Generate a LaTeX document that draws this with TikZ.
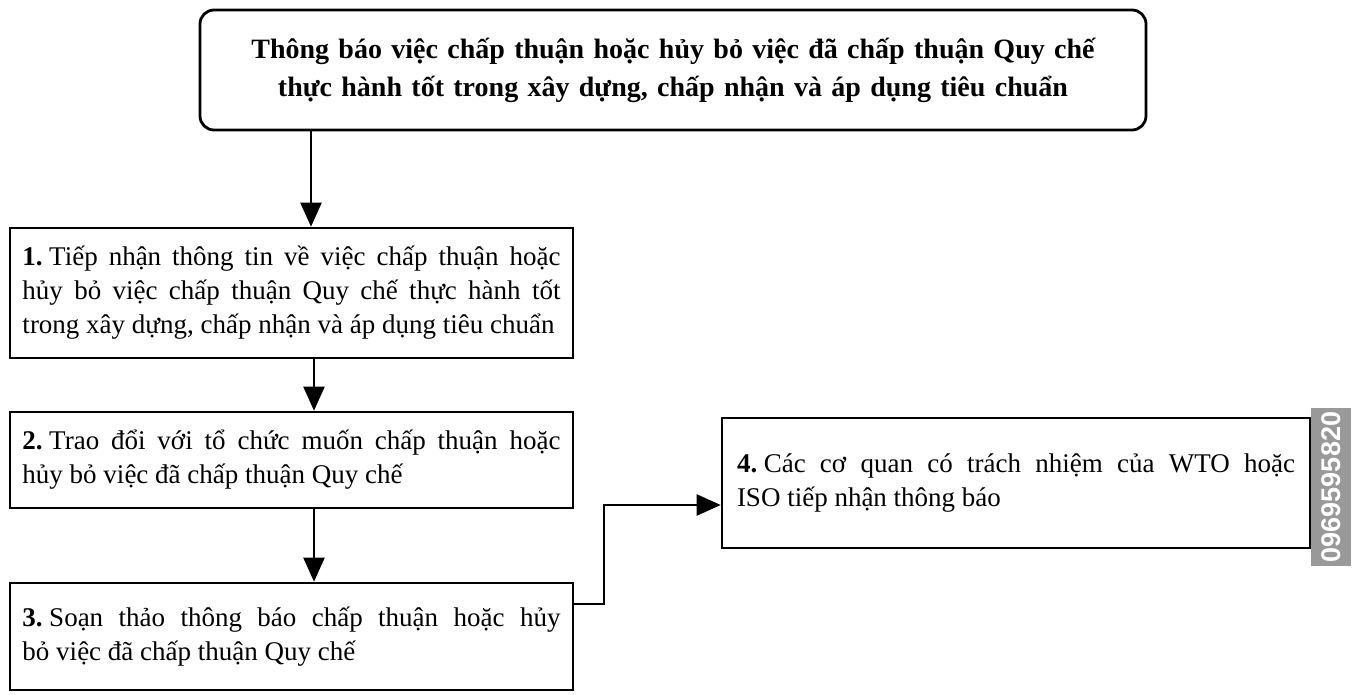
\documentclass[tikz,border=0pt]{standalone}
\usepackage{fontspec}
\setmainfont{Liberation Serif}
\newfontfamily\wmfont{Liberation Sans}
\usetikzlibrary{arrows.meta}
\newcommand{\stepnum}[1]{\textbf{#1}\hspace{6.5pt}}
\begin{document}
\begin{tikzpicture}[x=1pt,y=-1pt,
  stepbox/.style={draw, line width=2.6pt, rectangle, inner sep=0pt, align=justify,
    font=\fontsize{27}{34}\selectfont},
  headbox/.style={draw, line width=2.8pt, rectangle, rounded corners=14pt, inner sep=0pt,
    align=center, font=\bfseries\fontsize{28}{38}\selectfont},
  arr/.style={line width=2.2pt, -{Triangle[width=21pt,length=24pt]}},
  wmark/.style={fill=black!40, text=white, inner sep=0pt, font=\wmfont\bfseries\fontsize{27}{27}\selectfont}
]
\useasboundingbox (0,0) rectangle (1353,695);
\fill[white] (0,0) rectangle (1353,695);

\node[headbox, minimum width=946pt, minimum height=120pt, text width=920pt] (top) at (673,70)
  {Thông báo việc chấp thuận hoặc hủy bỏ việc đã chấp thuận Quy chế\\
   thực hành tốt trong xây dựng, chấp nhận và áp dụng tiêu chuẩn};

\node[stepbox, minimum width=563pt, minimum height=130pt, text width=538pt] (b1) at (291.5,293)
  {\stepnum{1.}Tiếp nhận thông tin về việc chấp thuận hoặc\linebreak hủy bỏ việc chấp thuận Quy chế thực hành tốt\linebreak trong xây dựng, chấp nhận và áp dụng tiêu chuẩn};

\node[stepbox, minimum width=563pt, minimum height=96pt, text width=538pt] (b2) at (291.5,460)
  {\stepnum{2.}Trao đổi với tổ chức muốn chấp thuận hoặc\linebreak hủy bỏ việc đã chấp thuận Quy chế};

\node[stepbox, minimum width=563pt, minimum height=107pt, text width=538pt] (b3) at (291.5,636.5)
  {\stepnum{3.}Soạn thảo thông báo chấp thuận hoặc hủy\linebreak bỏ việc đã chấp thuận Quy chế\par\vspace{16pt}};

\node[stepbox, minimum width=588pt, minimum height=130pt, text width=558pt] (b4) at (1016,483)
  {\stepnum{4.}Các cơ quan có trách nhiệm của WTO hoặc\linebreak ISO tiếp nhận thông báo\par\vspace{24pt}};

\coordinate (ax1) at (311,0);
\coordinate (ax2) at (314,0);
\draw[arr] (top.south -| ax1) -- (b1.north -| ax1);
\draw[arr] (b1.south -| ax2) -- (b2.north -| ax2);
\draw[arr] (b2.south -| ax2) -- (b3.north -| ax2);

\coordinate (c1) at (604,604);
\coordinate (c2) at (604,505);
\draw[arr] (b3.east |- c1) -- (c1) -- (c2) -- (b4.west |- c2);

\node[wmark, minimum width=158pt, minimum height=40pt, rotate=90] (wm) at (1331,487) {0969595820};
\end{tikzpicture}
\end{document}
